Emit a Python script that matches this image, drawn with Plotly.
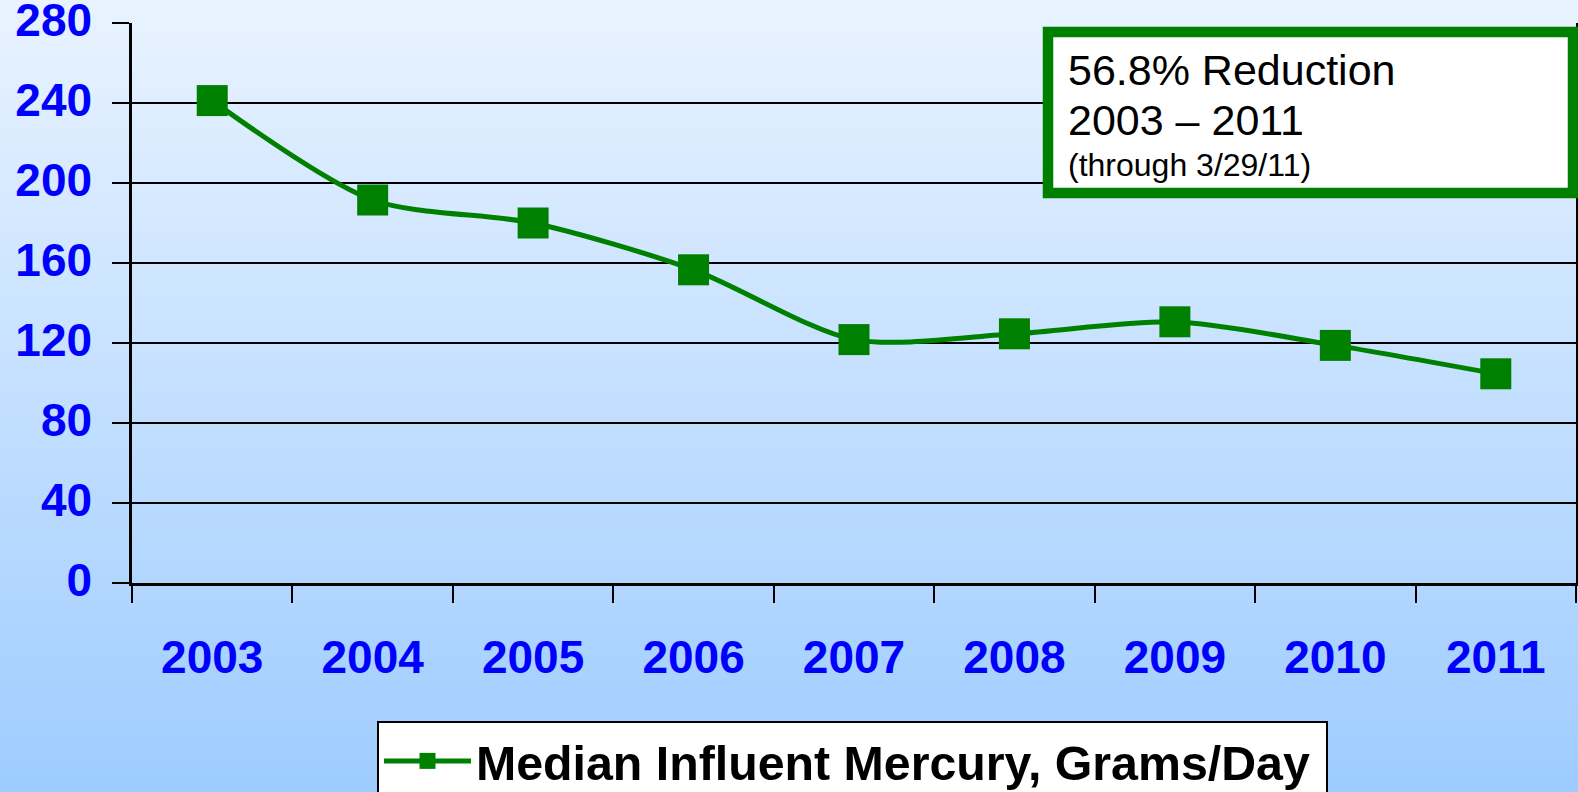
import plotly.graph_objects as go

# ---- data ----
years = ["2003", "2004", "2005", "2006", "2007", "2008", "2009", "2010", "2011"]
mercury = [241.2, 191.5, 180.0, 156.6, 121.7, 124.6, 130.6, 118.8, 104.6]
series_name = "Median Influent Mercury, Grams/Day"
y_ticks = [0, 40, 80, 120, 160, 200, 240, 280]
note_lines = ["56.8% Reduction", "2003 \u2013 2011", "(through 3/29/11)"]

# ---- layout constants ----
W, H = 1578, 792
ML, MR, MT, MB = 132, 2, 23, 209
PW, PH = W - ML - MR, H - MT - MB
FONT = "Arial, 'Liberation Sans', sans-serif"
GREEN = "#008000"
BLUE = "#0000FF"


def px(x):
    return (x - ML) / PW


def py(y):
    return (H - MB - y) / PH


fig = go.Figure()
fig.add_trace(go.Scatter(
    x=years, y=mercury, name=series_name, mode="lines+markers",
    line=dict(color=GREEN, width=5, shape="spline", smoothing=0.8),
    marker=dict(symbol="square", size=31, color=GREEN),
))

shapes = []
# background vertical gradient
top_c = (233, 243, 255)
bot_c = (158, 204, 255)
n = 120
for i in range(n):
    t = (i + 0.5) / n
    c = tuple(round(top_c[k] + (bot_c[k] - top_c[k]) * t) for k in range(3))
    y0 = H * i / n - 1
    y1 = H * (i + 1) / n + 1
    shapes.append(dict(type="rect", xref="paper", yref="paper", layer="below",
                       x0=px(-5), x1=px(W + 5), y0=py(y1), y1=py(y0),
                       line=dict(width=0), fillcolor="rgb(%d,%d,%d)" % c))

# annotation box
shapes.append(dict(type="rect", xref="paper", yref="paper", layer="above",
                   x0=px(1048), x1=px(1573), y0=py(193), y1=py(32),
                   line=dict(color=GREEN, width=10.5), fillcolor="white"))

annotations = [
    dict(text=note_lines[0], x=px(1066), y=py(70), xref="paper", yref="paper",
         xanchor="left", yanchor="middle", showarrow=False,
         font=dict(family=FONT, size=43, color="black")),
    dict(text=note_lines[1], x=px(1066), y=py(120), xref="paper", yref="paper",
         xanchor="left", yanchor="middle", showarrow=False,
         font=dict(family=FONT, size=43, color="black")),
    dict(text=note_lines[2], x=px(1066), y=py(165), xref="paper", yref="paper",
         xanchor="left", yanchor="middle", showarrow=False,
         font=dict(family=FONT, size=32, color="black")),
]

fig.update_layout(
    template="none",
    width=W, height=H,
    margin=dict(l=ML, r=MR, t=MT, b=MB, pad=0, autoexpand=False),
    paper_bgcolor="rgb(196,224,255)",
    plot_bgcolor="rgba(0,0,0,0)",
    shapes=shapes,
    annotations=annotations,
    showlegend=True,
    legend=dict(
        x=px(377), y=py(721), xanchor="left", yanchor="top",
        xref="paper", yref="paper", orientation="h",
        bgcolor="white", bordercolor="black", borderwidth=2,
        font=dict(family=FONT, size=48.3, color="black", weight="bold"),
        itemwidth=87, entrywidth=845,
    ),
    xaxis=dict(
        type="category", tickson="boundaries", automargin=False,
        range=[-0.5, len(years) - 0.5],
        showline=True, linecolor="black", linewidth=2.5,
        ticks="outside", ticklen=17, tickwidth=2, tickcolor="black",
        showgrid=False, mirror=False, zeroline=False,
        tickfont=dict(family=FONT, size=46, color=BLUE, weight="bold"),
        ticklabelstandoff=32,
    ),
    yaxis=dict(
        range=[0, 280], tickvals=y_ticks, ticktext=[str(v) for v in y_ticks],
        automargin=False, ticklabeloverflow="allow", ticklabelshift=-3,
        showline=True, linecolor="black", linewidth=2.5, mirror=True,
        ticks="outside", ticklen=17, tickwidth=2, tickcolor="black",
        showgrid=True, gridcolor="black", gridwidth=2,
        zeroline=False,
        tickfont=dict(family=FONT, size=46, color=BLUE, weight="bold"),
        ticklabelstandoff=11,
    ),
)

fig.write_html(
    "out.html",
    config={"displayModeBar": False},
    post_script="document.body.style.margin='0';document.body.style.overflow='hidden';",
)
